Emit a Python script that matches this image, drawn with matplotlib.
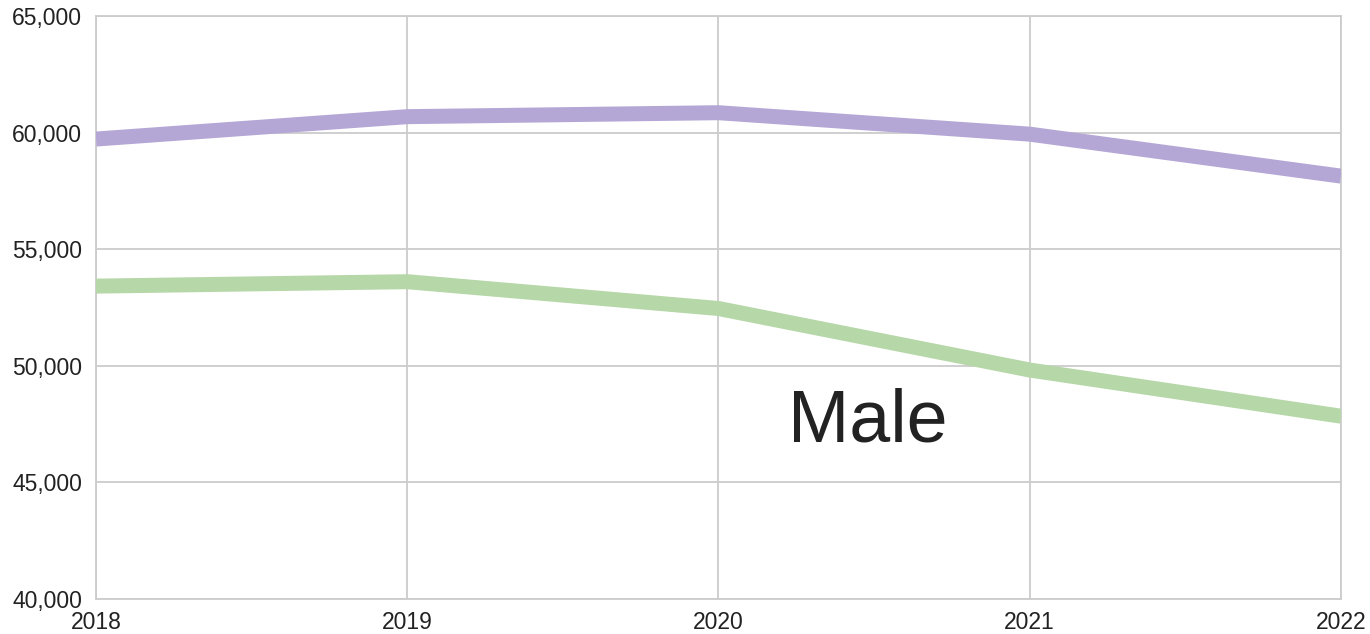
import matplotlib
matplotlib.use("Agg")
import matplotlib.pyplot as plt
from matplotlib.ticker import FuncFormatter

years = [2018, 2019, 2020, 2021, 2022]
series_purple = [59720, 60680, 60850, 59930, 58130]
series_green = [53410, 53600, 52450, 49810, 47830]
y_ticks = [40000, 45000, 50000, 55000, 60000, 65000]
annotation = "Male"

plt.rcParams['font.family'] = ['Liberation Sans', 'DejaVu Sans']

fig = plt.figure(figsize=(13.7, 6.34), dpi=100)
ax = fig.add_axes([0.0701, 0.0557, 0.9087, 0.9191])

ax.plot(years, series_purple, color='#b4a7d6', lw=10.8, solid_capstyle='butt', solid_joinstyle='round', zorder=3)
ax.plot(years, series_green, color='#b6d7a8', lw=10.8, solid_capstyle='butt', solid_joinstyle='round', zorder=3)

ax.set_xlim(2018, 2022)
ax.set_ylim(40000, 65000)
ax.set_xticks(years)
ax.set_yticks(y_ticks)
ax.yaxis.set_major_formatter(FuncFormatter(lambda v, p: f"{int(v):,}"))
ax.grid(True, color='#cccccc', lw=1.3, zorder=0)
for s in ax.spines.values():
    s.set_color('#cccccc')
    s.set_linewidth(1.3)
ax.tick_params(length=0, labelsize=16.5, colors='#222222')
ax.tick_params(axis='y', pad=10)
ax.tick_params(axis='x', pad=9)

ax.text(2020.48, 47560, annotation, fontsize=53, color='#222222', ha='center', va='center')

fig.savefig("out.png", dpi=100)
